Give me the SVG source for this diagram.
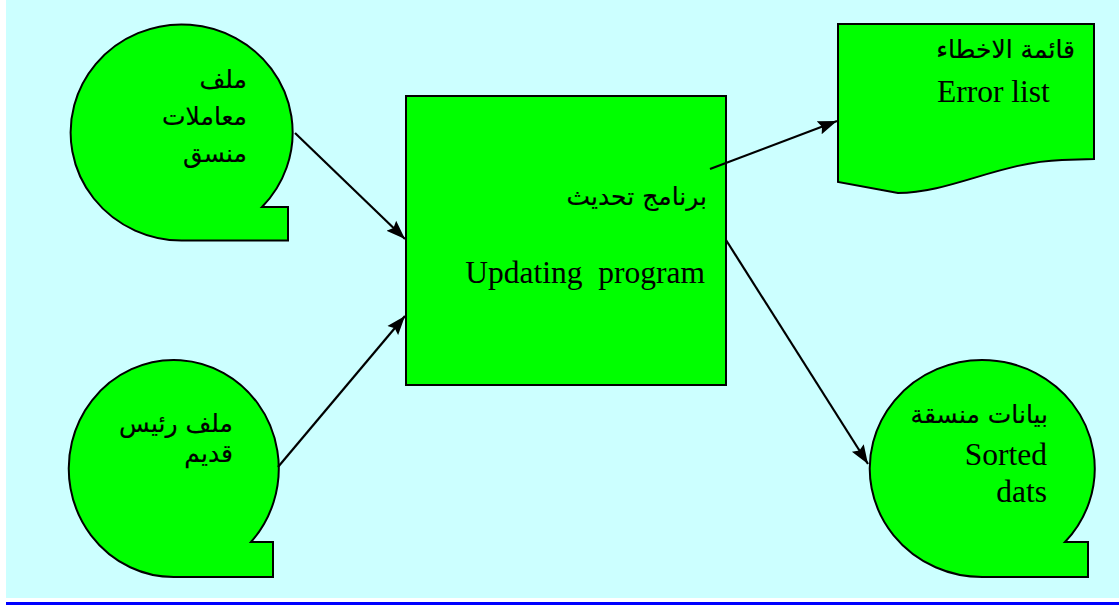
<svg xmlns="http://www.w3.org/2000/svg" width="1119" height="605" viewBox="0 0 1119 605">
  <style>
    .shape { fill: #00FF00; stroke: #000; stroke-width: 2; }
    .conn { stroke: #000; stroke-width: 2.2; fill: none; marker-end: url(#arrow); }
    .ar { font-family: "DejaVu Sans", "Liberation Serif", sans-serif; font-size: 25px; fill: #000; stroke: #000; stroke-width: 0.2; text-anchor: end; }
    .en { font-family: "Liberation Serif", "Times New Roman", serif; font-size: 31.5px; fill: #000; }
  </style>
  <defs>
    <marker id="arrow" markerUnits="userSpaceOnUse" markerWidth="20" markerHeight="16" refX="19" refY="8" orient="auto">
      <path d="M0,1 L19,8 L0,15 L3,8 Z" fill="#000"/>
    </marker>
  </defs>

  <!-- page background -->
  <rect x="0" y="0" width="1119" height="605" fill="#FFFFFF"/>
  <rect x="6" y="0" width="1113" height="598" fill="#CCFFFF"/>
  <rect x="6" y="602" width="1113" height="3" fill="#0000FF"/>

  <!-- sorted transactions file (tape) -->
  <g id="transactions-file">
    <path class="shape" d="M181.5,240.5 A111,108 0 1 1 262,207 L288,207 L288,240.5 Z"/>
    <text class="ar" x="247" y="88">ملف</text>
    <text class="ar" x="247" y="125">معاملات</text>
    <text class="ar" x="247" y="162">منسق</text>
  </g>

  <!-- old master file (tape) -->
  <g id="old-master-file">
    <path class="shape" d="M174,577 A105,108.5 0 1 1 251,542 L273,542 L273,577 Z"/>
    <text class="ar" x="233" y="432">ملف رئيس</text>
    <text class="ar" x="233" y="462">قديم</text>
  </g>

  <!-- updating program (process) -->
  <g id="updating-program">
    <rect class="shape" x="406" y="96" width="320" height="289"/>
    <text class="ar" x="707" y="205">برنامج تحديث</text>
    <text class="en" x="705" y="283" text-anchor="end" xml:space="preserve">Updating  program</text>
  </g>

  <!-- error list (document) -->
  <g id="error-list">
    <path class="shape" d="M838,24 L1094,24 L1094,159 L1062,160 C1000,162 950,193 898,193 L838,182 Z"/>
    <text class="ar" x="1075" y="58">قائمة الاخطاء</text>
    <text class="en" x="937" y="102">Error list</text>
  </g>

  <!-- sorted data (tape) -->
  <g id="sorted-data">
    <path class="shape" d="M982.5,577 A112.5,108.5 0 1 1 1065,542 L1088,542 L1088,577 Z"/>
    <text class="ar" x="1048" y="423">بيانات منسقة</text>
    <text class="en" x="1047" y="465" text-anchor="end">Sorted</text>
    <text class="en" x="1047" y="502" text-anchor="end">dats</text>
  </g>

  <!-- connectors, drawn over the nodes -->
  <g id="connectors">
    <line class="conn" x1="295" y1="133" x2="405" y2="239"/>
    <line class="conn" x1="278" y1="467" x2="405" y2="316"/>
    <line class="conn" x1="710" y1="169" x2="837" y2="121"/>
    <line class="conn" x1="726" y1="240" x2="868" y2="464"/>
  </g>
</svg>
